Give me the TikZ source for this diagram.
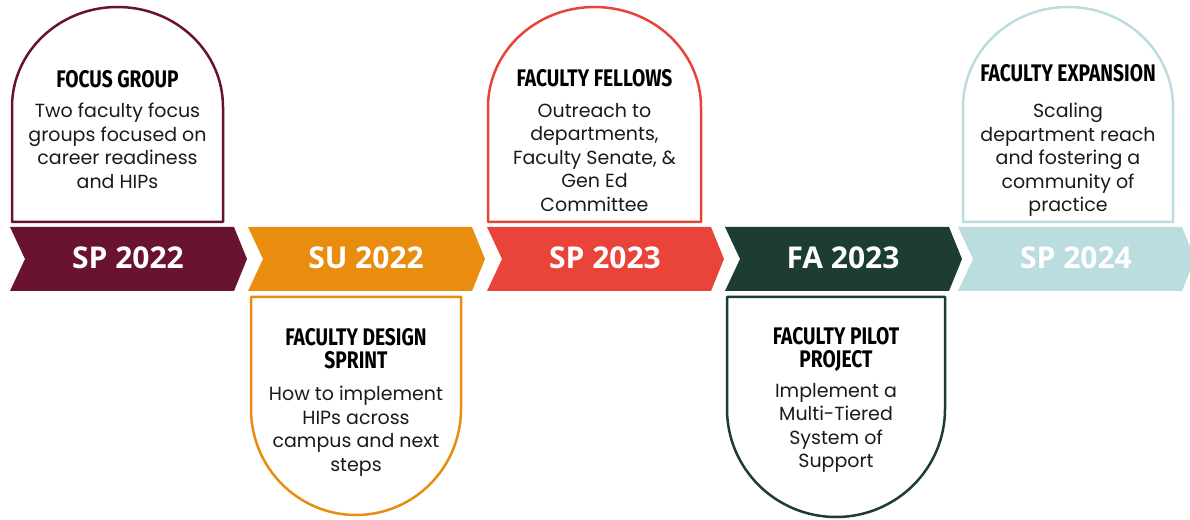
\documentclass[tikz,border=0pt]{standalone}
\usepackage{fontspec}
\setmainfont{Poppins}
\newfontfamily\headfont[FakeStretch=0.8]{Fira Sans}
\newfontfamily\yearfont{Open Sans}

\definecolor{cmaroon}{HTML}{6A1330}
\definecolor{corange}{HTML}{E98D0E}
\definecolor{cred}{HTML}{E8443A}
\definecolor{cgreen}{HTML}{1E3D32}
\definecolor{cblue}{HTML}{BCDDE0}
\definecolor{ctext}{HTML}{1A1A1A}

\tikzset{
  yeartxt/.style={text=white, font=\yearfont\bfseries\fontsize{30}{30}\selectfont, inner sep=0pt},
  headtxt/.style={text=black, font=\headfont\bfseries\fontsize{24}{23.5}\selectfont, inner sep=0pt, align=center},
  bodytxt/.style={text=ctext, font=\fontsize{19}{23.5}\selectfont, inner sep=0pt, align=center},
  boxline/.style={line width=2.5pt, fill=white, line join=round}
}

% chevron: left x, colour, node name, label
\newcommand\tlchev[4]{%
  \fill[#2] (#1,292) -- ++(224,0) -- ++(13,-32) -- ++(-13,-32) -- ++(-224,0) -- ++(15,32) -- cycle;
  \node[yeartxt] (#3) at (#1+118,261) {#4};}

% card with a rounded top: left x, right x, half width, colour
\newcommand\tlarchup[4]{%
  \draw[boxline, draw=#4] (#1,297) -- (#1,412) arc[start angle=180, end angle=0, x radius=#3pt, y radius=100pt] -- (#2,297) -- cycle;}

% card with a rounded bottom: left x, right x, half width, depth of the curve, colour
\newcommand\tlarchdown[5]{%
  \draw[boxline, draw=#5] (#1,222) -- (#1,110) arc[start angle=180, end angle=360, x radius=#3pt, y radius=#4pt] -- (#2,222) -- cycle;}

\begin{document}
\begin{tikzpicture}[x=1pt, y=1pt]
\useasboundingbox (0,0) rectangle (1190,519);
\fill[white] (0,0) rectangle (1190,519);

% timeline band
\tlchev{10}{cmaroon}{y1}{SP 2022}
\tlchev{248}{corange}{y2}{SU 2022}
\tlchev{487}{cred}{y3}{SP 2023}
\tlchev{725}{cgreen}{y4}{FA 2023}
\tlchev{958}{cblue}{y5}{SP 2024}

% cards
\tlarchup{12}{223}{105.5}{cmaroon}
\tlarchdown{251}{461}{105}{106}{corange}
\tlarchup{488}{701}{106.5}{cred}
\tlarchdown{727}{945}{109}{108}{cgreen}
\tlarchup{963}{1173}{105}{cblue}

% card texts
\node[headtxt, anchor=base] (h1) at (117.5,431) {FOCUS GROUP};
\node[bodytxt, anchor=north] (b1) at (117.5,416) {Two faculty focus\\groups focused on\\career readiness\\and HIPs};

\node[headtxt, anchor=north] (h2) at (356,191) {FACULTY DESIGN\\SPRINT};
\node[bodytxt, anchor=north] (b2) at (356,133) {How to implement\\HIPs across\\campus and next\\steps};

\node[headtxt, anchor=base] (h3) at (594.5,432) {FACULTY FELLOWS};
\node[bodytxt, anchor=north] (b3) at (594.5,416) {Outreach to\\departments,\\Faculty Senate, \&\\Gen Ed\\Committee};

\node[headtxt, anchor=north] (h4) at (836,192) {FACULTY PILOT\\PROJECT};
\node[bodytxt, anchor=north] (b4) at (836,136) {Implement a\\Multi-Tiered\\System of\\Support};

\node[headtxt, anchor=base] (h5) at (1068,437) {FACULTY EXPANSION};
\node[bodytxt, anchor=north] (b5) at (1068,416) {Scaling\\department reach\\and fostering a\\community of\\practice};
\end{tikzpicture}
\end{document}
